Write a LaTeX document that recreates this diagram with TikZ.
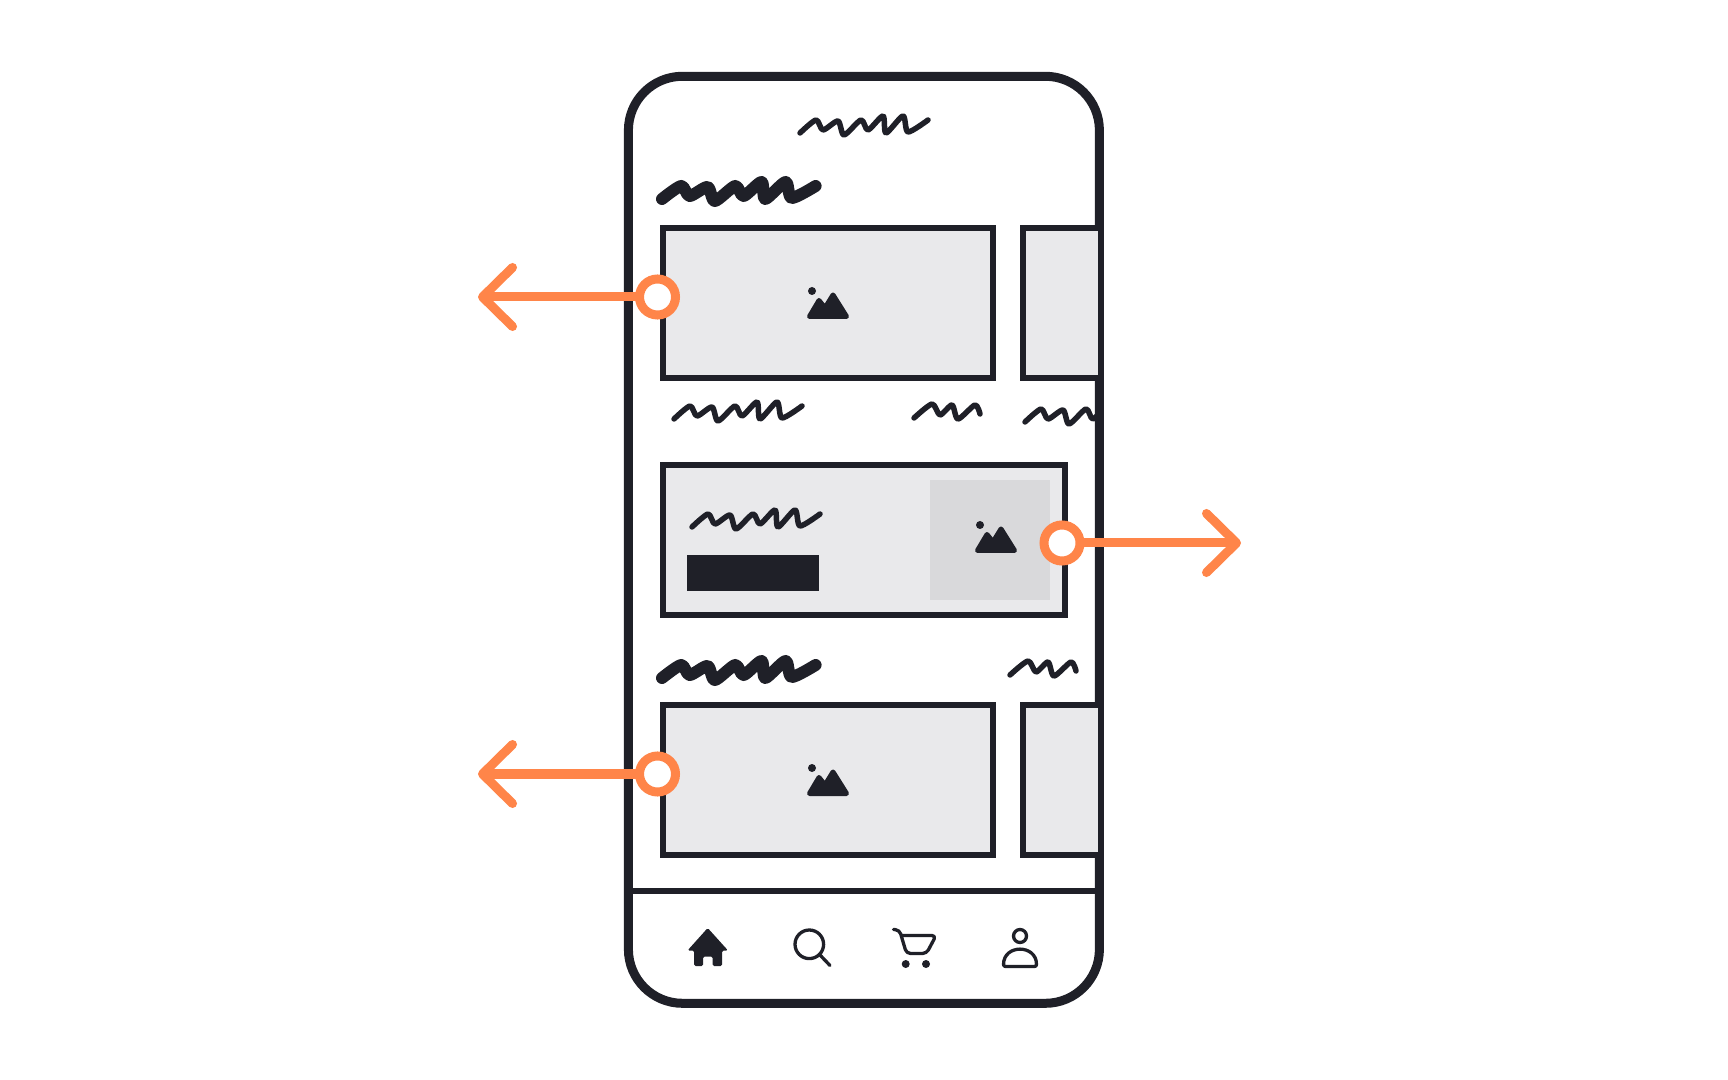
\documentclass[tikz,border=0pt]{standalone}
\usetikzlibrary{arrows.meta}
\definecolor{inkdark}{HTML}{1F2028}
\definecolor{flowor}{HTML}{FF8549}
\definecolor{cardgrey}{HTML}{E9E9EB}
\definecolor{photogrey}{HTML}{D9D9DB}
\tikzset{
  phoneline/.style={draw=inkdark,line width=0.09cm},
  cardbox/.style={draw=inkdark,fill=cardgrey,line width=0.06cm},
  hotspot/.style={circle,draw=flowor,fill=white,line width=0.09cm,minimum size=0.36cm,inner sep=0pt,outer sep=0pt},
  flowline/.style={draw=flowor,line width=0.09cm,line join=round,-{Straight Barb[round,length=0.30cm,width=0.59cm]}},
  navline/.style={draw=inkdark,line width=0.033cm,line cap=round,line join=round},
  squigline/.pic={
    \draw[inkdark,line width=#1,line cap=round,line join=round] plot[smooth,tension=0.45] coordinates
      {(0,0) (16,-13) (23,-3) (38,-12) (44,2) (61,-13) (68,-3) (83,-17) (86,0) (103,-17) (108,-1) (128,-13)};
  },
  squigshort/.pic={
    \draw[inkdark,line width=0.055cm,line cap=round,line join=round] plot[smooth,tension=0.45] coordinates
      {(0,0) (18,-14) (26,-3) (38,-13) (44,1) (61,-13) (66,-4)};
  },
  imgicon/.pic={
    \fill[inkdark] (-16,-12) circle [radius=4];
    \filldraw[inkdark,line width=0.05cm,line join=round] (-18.5,13.5) -- (-9,-2.5) -- (-3,5) -- (5,-8) -- (18.5,13.5) -- cycle;
  }
}
\begin{document}
\begin{tikzpicture}[x=0.01cm,y=-0.01cm]
  \useasboundingbox (0,0) rectangle (1728,1080);

  % screen content, cut off at the phone edge
  \begin{scope}
    \clip[rounded corners=0.54cm] (628.4,76.3) rectangle (1099.4,1003.3);
    \pic at (800,133) {squigline=0.055cm};
    \pic[xscale=1.2] at (662,199) {squigline=0.12cm};

    % first row
    \draw [cardbox] (663,228) rectangle (993,378);
    \pic at (828,303) {imgicon};
    \pic at (674,419) {squigline=0.055cm};
    \pic at (914,418) {squigshort};
    \pic at (1025,422) {squigline=0.055cm};

    % banner
    \draw [cardbox] (663,465) rectangle (1065,615);
    \fill [photogrey] (930,480) rectangle (1050,600);
    \pic at (996,537) {imgicon};
    \pic at (692,527) {squigline=0.055cm};
    \fill [inkdark] (687,555) rectangle (819,591);

    % second row
    \pic[xscale=1.2] at (662,678) {squigline=0.12cm};
    \pic at (1010,675) {squigshort};
    \draw [cardbox] (663,705) rectangle (993,855);
    \pic at (828,780) {imgicon};
  \end{scope}

  % phone frame
  \draw [phoneline,rounded corners=0.54cm] (628.4,76.3) rectangle (1099.4,1003.3);
  \draw [phoneline,line width=0.06cm] (628.4,891) -- (1099.4,891);

  % cards running under the edge
  \draw [cardbox] (1023,228) rectangle (1100.7,378);
  \draw [cardbox] (1023,705) rectangle (1100.7,855);

  % home
  \fill [inkdark,rounded corners=0.015cm] (687.5,950.5) -- (707.7,928) -- (728,950.5) -- (722,950.5) -- (722,966) -- (712.5,966) -- (712.5,956.5) -- (703,956.5) -- (703,966) -- (694,966) -- (694,950.5) -- cycle;
  % search
  \draw [navline] (809.3,944.3) circle [radius=14.3];
  \draw [navline] (820,955) -- (830,965.5);
  % cart
  \draw [navline,rounded corners=0.04cm] (893.5,929.5) -- (899.5,930) -- (906.5,953.5) -- (926.5,953.5) -- (936,935.5) -- (901.5,935.5);
  \fill [inkdark] (905.7,964) circle [radius=4];
  \fill [inkdark] (926,964) circle [radius=4];
  % profile
  \draw [navline] (1020,936) circle [radius=6.5];
  \draw [navline,rounded corners=0.02cm] (1003.5,966.5) .. controls (1003.5,944) and (1036.5,944) .. (1036.5,966.5) -- cycle;

  % arrows
  \node [hotspot] (spot1) at (657.5,297) {};
  \node [hotspot] (spot2) at (1062,543) {};
  \node [hotspot] (spot3) at (657.5,774) {};
  \coordinate (tip1) at (478,297);
  \coordinate (tip2) at (1241,543);
  \coordinate (tip3) at (478,774);
  \draw [flowline] (spot1) -- (tip1);
  \draw [flowline] (spot2) -- (tip2);
  \draw [flowline] (spot3) -- (tip3);
\end{tikzpicture}
\end{document}
